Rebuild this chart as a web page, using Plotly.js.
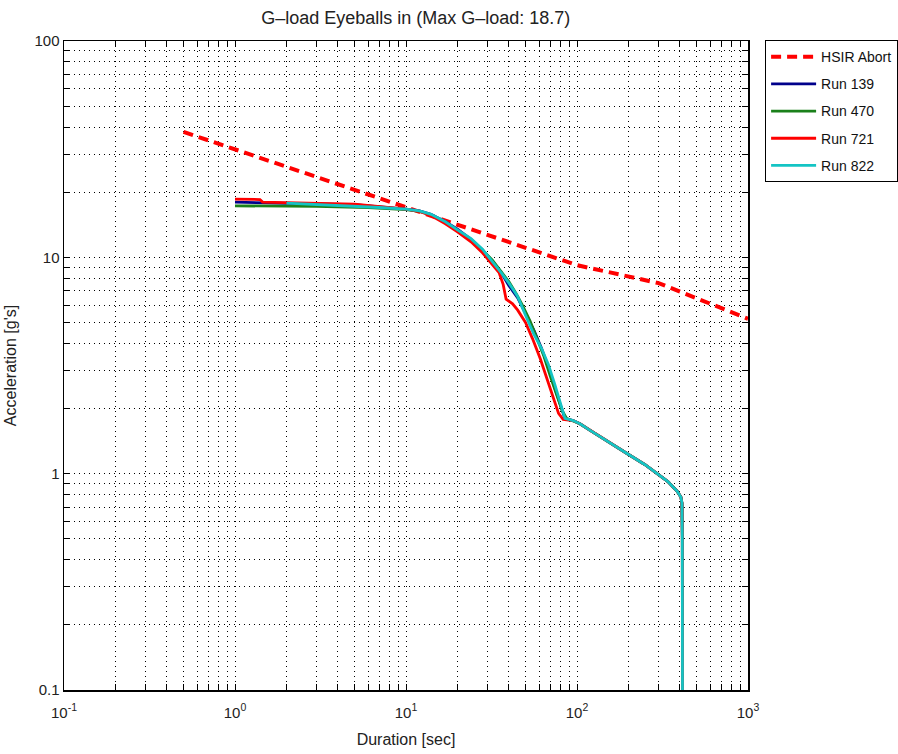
<!DOCTYPE html>
<html>
<head>
<meta charset="utf-8">
<script src="https://cdn.plot.ly/plotly-3.0.1.min.js"></script>
<style>html,body{margin:0;padding:0;background:#fff;}#chart{width:898px;height:754px;}</style>
</head>
<body>
<div id="chart"></div>
<script>
// HSIR Abort limit curve
const hsirX = [0.5, 100, 300, 1000];
const hsirY = [38, 9.2, 7.6, 5.2];

// shared tail of all runs (after ~85 s)
const tailX = [95, 104, 120, 150, 196, 250, 294, 340, 385, 405, 411, 413, 414];
const tailY = [1.76, 1.70, 1.58, 1.42, 1.24, 1.10, 1.00, 0.92, 0.83, 0.78, 0.73, 0.5, 0.08];

const run139X = [1, 1.5, 5, 10, 12, 14, 17, 20, 24, 28, 32, 36, 40, 45, 50, 56, 62, 68, 74, 80, 85];
const run139Y = [18.0, 17.9, 17.5, 16.7, 16.4, 15.8, 14.6, 13.5, 12.1, 10.8, 9.6, 8.5, 7.4, 6.5, 5.5, 4.6, 3.8, 3.1, 2.5, 2.05, 1.8];

const run470X = [1, 3, 6, 10, 12, 14, 17, 20, 24, 28, 32, 36, 40, 44, 48, 53, 58, 64, 70, 76, 82, 87, 90];
const run470Y = [17.3, 17.2, 17.0, 16.6, 16.3, 15.7, 14.5, 13.3, 12.0, 10.8, 9.7, 8.6, 7.7, 6.8, 6.0, 5.1, 4.3, 3.5, 2.8, 2.3, 1.95, 1.8, 1.78];

const run721X = [1, 1.4, 1.45, 5, 10, 12, 14, 17, 20, 24, 28, 32, 35, 37, 38.5, 42, 45, 50, 55, 61, 67, 73, 78, 83];
const run721Y = [18.6, 18.5, 18.0, 17.6, 16.7, 16.3, 15.6, 14.3, 13.1, 11.8, 10.5, 9.3, 8.5, 7.5, 6.4, 6.1, 5.7, 5.0, 4.2, 3.4, 2.7, 2.2, 1.9, 1.78];

const run822X = [2, 4, 7, 10, 12, 14, 17, 20, 24, 28, 32, 36, 40, 45, 50, 56, 62, 68, 74, 80, 85];
const run822Y = [17.8, 17.4, 17.0, 16.7, 16.4, 15.8, 14.6, 13.4, 12.2, 10.9, 9.6, 8.5, 7.6, 6.6, 5.4, 4.4, 3.8, 3.2, 2.6, 2.1, 1.8];

const xDecades = [0.1, 1, 10, 100, 1000];
const xTickText = ['10<sup>-1</sup>', '10<sup>0</sup>', '10<sup>1</sup>', '10<sup>2</sup>', '10<sup>3</sup>'];
const yDecades = [0.1, 1, 10, 100];
const yTickText = ['0.1', '1', '10', '100'];

function withMinor(decades, labels) {
  const vals = [], text = [];
  decades.forEach((d, i) => {
    vals.push(d); text.push(labels[i]);
    if (i < decades.length - 1) {
      for (let m = 2; m <= 9; m++) { vals.push(d * m); text.push(''); }
    }
  });
  return {vals, text};
}
const xt = withMinor(xDecades, xTickText);
const yt = withMinor(yDecades, yTickText);

const lw = 2.8;
const traces = [
  {x: hsirX, y: hsirY, name: 'HSIR Abort', mode: 'lines', legendgroup: 'a',
   line: {color: '#ff0000', width: 4, dash: '10px,6px'}},
  {x: run139X.concat(tailX), y: run139Y.concat(tailY), name: 'Run 139', mode: 'lines', legendgroup: 'b',
   line: {color: '#00008b', width: lw}},
  {x: run470X.concat(tailX), y: run470Y.concat(tailY), name: 'Run 470', mode: 'lines', legendgroup: 'c',
   line: {color: '#1a801a', width: lw}},
  {x: run721X.concat(tailX), y: run721Y.concat(tailY), name: 'Run 721', mode: 'lines', legendgroup: 'd',
   line: {color: '#ff0000', width: lw}},
  {x: run822X.concat(tailX), y: run822Y.concat(tailY), name: 'Run 822', mode: 'lines', legendgroup: 'e',
   line: {color: '#14c4c4', width: lw}}
];

const fam = 'Liberation Sans, Arial, sans-serif';
const axisCommon = {
  type: 'log', showline: true, linecolor: '#000', linewidth: 1.5, mirror: 'allticks',
  ticks: 'inside', ticklen: 6, tickcolor: '#000', tickwidth: 1,
  showgrid: true, gridcolor: '#000', gridwidth: 1, griddash: '1px,4px',
  zeroline: false, tickmode: 'array', automargin: false,
  tickfont: {family: fam, size: 15, color: '#222'}
};

const layout = {
  width: 898, height: 754,
  paper_bgcolor: '#fff', plot_bgcolor: '#fff',
  margin: {l: 64, r: 150, t: 41, b: 64, autoexpand: false},
  font: {family: fam, size: 14, color: '#222'},
  title: {text: 'G\u2013load Eyeballs in (Max G\u2013load: 18.7)', x: 0.463, xref: 'container', xanchor: 'center',
          y: 0.976, yref: 'container', yanchor: 'middle', font: {family: fam, size: 18, color: '#222'}},
  xaxis: Object.assign({}, axisCommon, {
    range: [-1, 3], tickvals: xt.vals, ticktext: xt.text, ticklabelstandoff: 8,
    title: {text: 'Duration [sec]', standoff: 14, font: {family: fam, size: 16, color: '#222'}}
  }),
  yaxis: Object.assign({}, axisCommon, {
    range: [-1, 2], tickvals: yt.vals, ticktext: yt.text,
    title: {text: "Acceleration [g's]", standoff: 14, font: {family: fam, size: 16, color: '#222'}}
  }),
  showlegend: true,
  legend: {x: 1.025, y: 1.0015, xanchor: 'left', yanchor: 'top', bgcolor: '#fff',
           bordercolor: '#000', borderwidth: 1, font: {family: fam, size: 14, color: '#111'},
           traceorder: 'grouped', tracegroupgap: 6, itemwidth: 45}
};

Plotly.newPlot('chart', traces, layout, {displayModeBar: false, staticPlot: true});
</script>
</body>
</html>
